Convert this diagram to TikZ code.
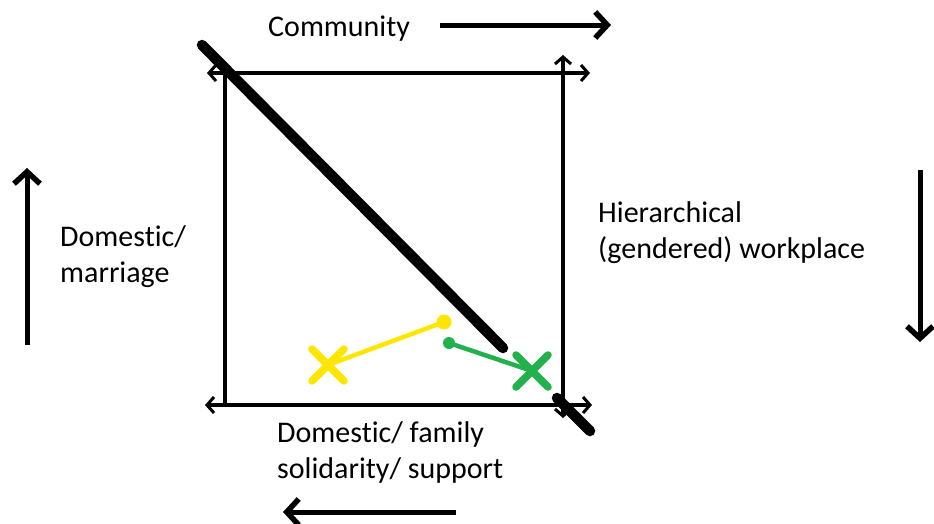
\documentclass[tikz,border=0pt]{standalone}
\usepackage{fontspec}
\setmainfont[Ligatures={NoCommon}]{Carlito}
\usetikzlibrary{arrows.meta,calc}
\definecolor{myyellow}{RGB}{255,230,0}
\definecolor{mygreen}{RGB}{34,177,76}
\tikzset{
  lbl/.style={font=\fontsize{30}{35.5}\selectfont, align=left, anchor=base west, inner sep=0pt},
  bigarrow/.style={line width=5pt, -{Straight Barb[length=12pt,width=26pt,line width=5.5pt]}},
  axis/.style={line width=3.5pt, {Straight Barb[length=7pt,width=16pt,line width=3pt]}-{Straight Barb[length=7pt,width=16pt,line width=3pt]}},
  side/.style={line width=3.5pt},
  diag/.style={line width=10.5pt, line cap=round},
  cross/.style={line width=7.5pt, line cap=round},
}
\begin{document}
\begin{tikzpicture}[x=1pt,y=-1pt]
\useasboundingbox (0,0) rectangle (934,523);
% square corners
\coordinate (tl) at (225,73);
\coordinate (tr) at (563,73);
\coordinate (bl) at (225,405);
\coordinate (br) at (563,405);
\coordinate (tla) at (207,73);
\coordinate (tra) at (590,73);
\coordinate (bla) at (205,405);
\coordinate (bra) at (592,405);
\coordinate (rt) at (563,55);
\coordinate (rb) at (563,418);
\draw[axis] (tla) -- (tra);
\draw[axis] (bla) -- (bra);
\draw[axis] (rt) -- (rb);
\draw[side] (tl) -- (bl);
% diagonal
\coordinate (d1) at (202,45);
\coordinate (d2) at (503,348);
\coordinate (d3) at (557,398);
\coordinate (d4) at (590,431);
\draw[diag] (d1) -- (d2);
\draw[diag] (d3) -- (d4);
% yellow
\coordinate (yx) at (328,365);
\coordinate (yd) at (444,322);
\draw[myyellow, line width=4.5pt] (yx) -- (yd);
\fill[myyellow] (yd) circle (7.5);
\draw[myyellow, cross] ($(yx)+(-16,-16)$) -- ($(yx)+(16,16)$);
\draw[myyellow, cross] ($(yx)+(-16,16)$) -- ($(yx)+(16,-16)$);
% green
\coordinate (gx) at (532,371);
\coordinate (gd) at (449,343);
\draw[mygreen, line width=4.5pt] (gd) -- (gx);
\fill[mygreen] (gd) circle (6);
\draw[mygreen, cross] ($(gx)+(-16,-16)$) -- ($(gx)+(16,16)$);
\draw[mygreen, cross] ($(gx)+(-16,16)$) -- ($(gx)+(16,-16)$);
% texts
\node[lbl] (comm) at (268,36) {Community};
\node[lbl] (dm) at (60,282) {Domestic/\\marriage};
\node[lbl] (hw) at (598,258) {Hierarchical\\(gendered) workplace};
\node[lbl] (df) at (277,478) {Domestic/ family\\solidarity/ support};
% big arrows
\coordinate (a1s) at (440,25); \coordinate (a1e) at (611,25);
\coordinate (a2s) at (27,345); \coordinate (a2e) at (27,168);
\coordinate (a3s) at (920,170); \coordinate (a3e) at (920,342);
\coordinate (a4s) at (456,512); \coordinate (a4e) at (283,512);
\draw[bigarrow] (a1s) -- (a1e);
\draw[bigarrow] (a2s) -- (a2e);
\draw[bigarrow] (a3s) -- (a3e);
\draw[bigarrow] (a4s) -- (a4e);
\end{tikzpicture}
\end{document}
